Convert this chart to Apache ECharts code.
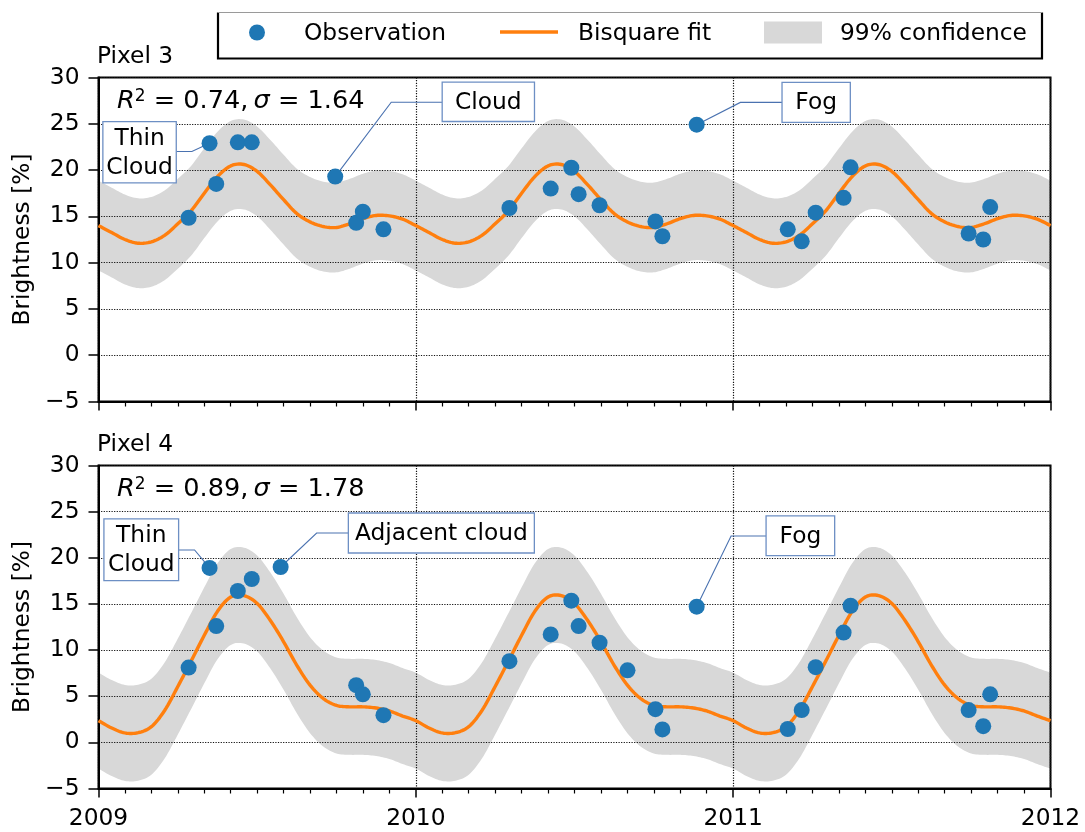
<!DOCTYPE html>
<html>
<head>
<meta charset="utf-8">
<script src="https://cdn.jsdelivr.net/npm/echarts@6/dist/echarts.min.js"></script>
<style>
  html, body { margin: 0; padding: 0; background: #fff; }
  #chart { width: 1085px; height: 832px; }
</style>
</head>
<body>
<div id="chart"></div>
<script>
// ---- data -----------------------------------------------------------------
// Observation dates (decimal years) and brightness values for each pixel
const obsYearsP3 = [2009.284, 2009.350, 2009.371, 2009.439, 2009.483, 2009.746, 2009.812, 2009.833, 2009.898,
                    2010.295, 2010.425, 2010.490, 2010.513, 2010.579, 2010.755, 2010.777, 2010.885,
                    2011.172, 2011.216, 2011.260, 2011.348, 2011.370, 2011.742, 2011.788, 2011.810];
const obsP3 = [14.85, 22.9, 18.5, 23.0, 23.0, 19.3, 14.3, 15.5, 13.6,
               15.9, 18.0, 20.25, 17.4, 16.2, 14.45, 12.85, 24.9,
               13.6, 12.3, 15.4, 17.0, 20.3, 13.15, 12.5, 16.0];

const obsYearsP4 = [2009.284, 2009.350, 2009.371, 2009.439, 2009.483, 2009.574, 2009.812, 2009.833, 2009.898,
                    2010.295, 2010.425, 2010.490, 2010.513, 2010.579, 2010.667, 2010.755, 2010.777, 2010.885,
                    2011.172, 2011.216, 2011.260, 2011.348, 2011.370, 2011.742, 2011.788, 2011.810];
const obsP4 = [8.1, 18.9, 12.6, 16.4, 17.7, 19.0, 6.2, 5.2, 2.95,
               8.8, 11.7, 15.35, 12.6, 10.8, 7.8, 3.6, 1.4, 14.7,
               1.45, 3.5, 8.15, 11.9, 14.8, 3.5, 1.75, 5.2];

// Bisquare fit, sampled every half month from 2009.0 to 2012.0
const fitStartYear = 2009;
const fitSamplesPerYear = 24;
const fitP3 = [
  14.0, 13.25, 12.5, 12.1, 12.25, 12.95, 14.2, 15.6, 17.5, 19.3, 20.45, 20.6,
  19.85, 18.4, 16.8, 15.3, 14.4, 13.9, 13.8, 14.2, 14.75, 15.1, 15.05, 14.7,
  14.0, 13.25, 12.5, 12.1, 12.25, 12.95, 14.2, 15.6, 17.5, 19.3, 20.45, 20.6,
  19.85, 18.4, 16.8, 15.3, 14.4, 13.9, 13.8, 14.2, 14.75, 15.1, 15.05, 14.7,
  14.0, 13.25, 12.5, 12.1, 12.25, 12.95, 14.2, 15.6, 17.5, 19.3, 20.45, 20.6,
  19.85, 18.4, 16.8, 15.3, 14.4, 13.9, 13.8, 14.2, 14.75, 15.1, 15.05, 14.7,
  14.0
];
const fitP4 = [
  2.35, 1.55, 1.02, 1.05, 1.7, 3.45, 6.05, 8.8, 11.6, 14.2, 15.75, 15.9,
  15.05, 13.2, 10.9, 8.35, 6.2, 4.75, 4.0, 3.85, 3.85, 3.72, 3.4, 2.85,
  2.35, 1.55, 1.02, 1.05, 1.7, 3.45, 6.05, 8.8, 11.6, 14.2, 15.75, 15.9,
  15.05, 13.2, 10.9, 8.35, 6.2, 4.75, 4.0, 3.85, 3.85, 3.72, 3.4, 2.85,
  2.35, 1.55, 1.02, 1.05, 1.7, 3.45, 6.05, 8.8, 11.6, 14.2, 15.75, 15.9,
  15.05, 13.2, 10.9, 8.35, 6.2, 4.75, 4.0, 3.85, 3.85, 3.72, 3.4, 2.85,
  2.35
];
// Half width of the 99% confidence band around each fit
const bandHalfWidthP3 = 4.85;
const bandHalfWidthP4 = 5.2;

// Axis ticks
const xTicks = [2009, 2010, 2011, 2012];
const yTicks = [-5, 0, 5, 10, 15, 20, 25, 30];

// Panel texts
const panelTitles = ['Pixel 3', 'Pixel 4'];
const fitR2 = ['0.74', '0.89'];
const fitSigma = ['1.64', '1.78'];
const legendNames = ['Observation', 'Bisquare fit', '99% confidence'];

// Flagged observations (index into the observation arrays)
const annotP3 = [
  { text: 'Thin\nCloud', obs: 1 },
  { text: 'Cloud', obs: 5 },
  { text: 'Fog', obs: 16 }
];
const annotP4 = [
  { text: 'Thin\nCloud', obs: 1 },
  { text: 'Adjacent cloud', obs: 5 },
  { text: 'Fog', obs: 17 }
];

// ---- styling / layout -----------------------------------------------------
const FONT = 'DejaVu Sans';
const FS = 23.33;
const C_OBS = '#1f77b4';
const C_FIT = '#ff7f0e';
const C_BAND = '#d8d8d8';
const C_ANNOT = '#4a72b0';

const grids = [
  { left: 98.5, top: 77.5, width: 952, height: 324 },
  { left: 98.5, top: 465.5, width: 952, height: 323 }
];

// Box centre / elbow offsets (px) relative to the annotated point, box size
const annotLayout = [
  [
    { box: [-70, 9], elbow: [-17.7, 8.3], size: [73.4, 61.3] },
    { box: [153.1, -74.7], elbow: [56, -74.3], size: [92.3, 39.3] },
    { box: [119.5, -22.3], elbow: [43.7, -22.3], size: [68.3, 40] }
  ],
  [
    { box: [-68.3, -18.2], elbow: [-15, -18], size: [74.7, 61.6] },
    { box: [160.7, -34], elbow: [36, -34], size: [186, 40] },
    { box: [103.7, -70.9], elbow: [34.4, -70.7], size: [68.6, 39.7] }
  ]
];

// ---- helpers --------------------------------------------------------------
function fitYear(i) { return fitStartYear + i / fitSamplesPerYear; }

// Catmull-Rom densification of screen points so curves render smoothly
function catmullRom(pts, n) {
  const out = [];
  const f = (a, b, c, d, t) => {
    const t2 = t * t, t3 = t2 * t;
    return 0.5 * (2 * b + (-a + c) * t + (2 * a - 5 * b + 4 * c - d) * t2 + (-a + 3 * b - 3 * c + d) * t3);
  };
  for (let i = 0; i < pts.length - 1; i++) {
    const p0 = pts[Math.max(i - 1, 0)], p1 = pts[i], p2 = pts[i + 1], p3 = pts[Math.min(i + 2, pts.length - 1)];
    for (let s = 0; s < n; s++) {
      const t = s / n;
      out.push([f(p0[0], p1[0], p2[0], p3[0], t), f(p0[1], p1[1], p2[1], p3[1], t)]);
    }
  }
  out.push(pts[pts.length - 1]);
  return out;
}

function minusSign(v) {
  return v < 0 ? '\u2212' + Math.abs(v) : String(v);
}

const dotted = { color: '#111', width: 1.2, type: [1.2, 1.4] };

function xAxis(i) {
  return {
    type: 'value', gridIndex: i,
    min: xTicks[0], max: xTicks[xTicks.length - 1], interval: xTicks[1] - xTicks[0],
    z: 2,
    axisLine: { show: true, onZero: false, lineStyle: { color: '#000', width: 2 } },
    axisTick: { show: true, length: 9, lineStyle: { color: '#000', width: 1.5 } },
    minorTick: { show: true, splitNumber: 12, length: 5, lineStyle: { color: '#000', width: 1.2 } },
    axisLabel: {
      show: i === 1, color: '#000', fontFamily: FONT, fontSize: FS, margin: 19,
      formatter: v => String(v)
    },
    splitLine: { show: true, lineStyle: dotted }
  };
}
function yAxis(i) {
  return {
    type: 'value', gridIndex: i,
    min: yTicks[0], max: yTicks[yTicks.length - 1], interval: yTicks[1] - yTicks[0],
    z: 2,
    name: 'Brightness [%]', nameLocation: 'middle', nameGap: 61,
    nameTextStyle: { color: '#000', fontFamily: FONT, fontSize: FS },
    axisLine: { show: true, onZero: false, lineStyle: { color: '#000', width: 2 } },
    axisTick: { show: true, length: 10, lineStyle: { color: '#000', width: 1.5 } },
    axisLabel: { color: '#000', fontFamily: FONT, fontSize: FS, margin: 19, formatter: minusSign },
    splitLine: { show: true, lineStyle: dotted }
  };
}

// Confidence band: fit +/- half width, filled polygon
function bandSeries(i, fit, hw) {
  return {
    name: legendNames[2], type: 'custom', xAxisIndex: i, yAxisIndex: i, z: 1, clip: true, silent: true,
    encode: { x: 0, y: [1, 2] },
    data: fit.map((v, k) => [fitYear(k), v - hw, v + hw]),
    renderItem: function (params, api) {
      if (params.dataIndex !== 0) return { type: 'group', children: [] };
      const upper = fit.map((v, k) => api.coord([fitYear(k), v + hw]));
      const lower = fit.map((v, k) => api.coord([fitYear(k), v - hw]));
      const pts = catmullRom(upper, 8).concat(catmullRom(lower, 8).reverse());
      return { type: 'polygon', shape: { points: pts }, style: { fill: C_BAND, stroke: null } };
    }
  };
}

// Fitted curve
function fitSeries(i, fit) {
  return {
    name: legendNames[1], type: 'custom', xAxisIndex: i, yAxisIndex: i, z: 3, clip: true, silent: true,
    encode: { x: 0, y: 1 },
    data: fit.map((v, k) => [fitYear(k), v]),
    renderItem: function (params, api) {
      if (params.dataIndex !== 0) return { type: 'group', children: [] };
      const pts = fit.map((v, k) => api.coord([fitYear(k), v]));
      return { type: 'polyline', shape: { points: catmullRom(pts, 8) },
               style: { stroke: C_FIT, lineWidth: 3.4, fill: null, lineJoin: 'round' } };
    }
  };
}

function annotationSeries(i, annots, years, values) {
  const lay = annotLayout[i];
  return {
    type: 'custom', xAxisIndex: i, yAxisIndex: i, z: 4, clip: false, silent: true,
    encode: { x: 0, y: 1 },
    data: annots.map(a => [years[a.obs], values[a.obs]]),
    renderItem: function (params, api) {
      const L = lay[params.dataIndex];
      const p = api.coord([api.value(0), api.value(1)]);
      const cx = p[0] + L.box[0], cy = p[1] + L.box[1];
      const ex = p[0] + L.elbow[0], ey = p[1] + L.elbow[1];
      const w = L.size[0], h = L.size[1];
      const sideX = ex < cx ? cx - w / 2 : cx + w / 2;
      return {
        type: 'group',
        children: [
          { type: 'polyline', shape: { points: [[sideX, ey], [ex, ey], [p[0], p[1]]] },
            style: { stroke: C_ANNOT, lineWidth: 1.1, fill: null } },
          { type: 'rect', shape: { x: cx - w / 2, y: cy - h / 2, width: w, height: h },
            style: { fill: '#fff', stroke: '#6d8fc4', lineWidth: 1.3 } },
          { type: 'text', x: cx, y: cy + 1,
            style: { text: annots[params.dataIndex].text, fill: '#000',
                     font: FS + 'px "' + FONT + '"', align: 'center', verticalAlign: 'middle',
                     lineHeight: 29 } }
        ]
      };
    }
  };
}

function panelSeries(i, fit, hw, years, values, annots) {
  return [
    bandSeries(i, fit, hw),
    fitSeries(i, fit),
    annotationSeries(i, annots, years, values),
    { name: legendNames[0], type: 'scatter', xAxisIndex: i, yAxisIndex: i, z: 5,
      data: years.map((y, k) => [y, values[k]]), symbol: 'circle', symbolSize: 16,
      itemStyle: { color: C_OBS, opacity: 1 }, silent: true }
  ];
}

// Titles, fit statistics and the legend box
const textFont = FS + 'px "' + FONT + '"';
const graphic = [];
panelTitles.forEach((t, i) => {
  graphic.push({ type: 'text', left: 97, top: grids[i].top - 32,
    style: { text: t, font: textFont, fill: '#000' } });
  graphic.push({ type: 'text', left: 117, top: grids[i].top + 11,
    style: {
      text: '{it|R}{sup|2} = ' + fitR2[i] + ',\u2009{it|\u03c3} = ' + fitSigma[i],
      font: '25.6px "' + FONT + '"', fill: '#000',
      rich: {
        it: { fontStyle: 'italic', fontFamily: FONT, fontSize: 25.6 },
        sup: { fontFamily: FONT, fontSize: 17, verticalAlign: 'top' }
      }
    } });
});
const LG = { x0: 218, y0: 12.5, x1: 1042, y1: 58.5 };
graphic.push(
  { type: 'rect', shape: { x: LG.x0, y: LG.y0, width: LG.x1 - LG.x0, height: LG.y1 - LG.y0 },
    style: { fill: '#fff', stroke: null }, z: 100 },
  { type: 'polyline', shape: { points: [[LG.x0, LG.y0], [LG.x0, LG.y1], [LG.x1, LG.y1], [LG.x1, LG.y0]] },
    style: { stroke: '#000', lineWidth: 2.2, fill: null }, z: 101 },
  { type: 'line', shape: { x1: LG.x0, y1: LG.y0, x2: LG.x1, y2: LG.y0 },
    style: { stroke: '#9a9a9a', lineWidth: 1 }, z: 101 },
  { type: 'circle', shape: { cx: 257, cy: 32.5, r: 8 }, style: { fill: C_OBS }, z: 102 },
  { type: 'text', left: 304, top: 22, style: { text: legendNames[0], font: textFont, fill: '#000' }, z: 102 },
  { type: 'line', shape: { x1: 500, y1: 32, x2: 558, y2: 32 }, style: { stroke: C_FIT, lineWidth: 3.4 }, z: 102 },
  { type: 'text', left: 578, top: 22, style: { text: legendNames[1], font: textFont, fill: '#000' }, z: 102 },
  { type: 'rect', shape: { x: 764, y: 21.5, width: 58, height: 22 }, style: { fill: C_BAND }, z: 102 },
  { type: 'text', left: 840, top: 22, style: { text: legendNames[2], font: textFont, fill: '#000' }, z: 102 }
);

const option = {
  animation: false,
  backgroundColor: '#fff',
  grid: grids.map(g => Object.assign({ show: true, borderColor: '#000', borderWidth: 2,
                                        backgroundColor: 'transparent', z: 2 }, g)),
  xAxis: [xAxis(0), xAxis(1)],
  yAxis: [yAxis(0), yAxis(1)],
  series: [].concat(
    panelSeries(0, fitP3, bandHalfWidthP3, obsYearsP3, obsP3, annotP3),
    panelSeries(1, fitP4, bandHalfWidthP4, obsYearsP4, obsP4, annotP4)
  ),
  graphic: graphic
};

const chart = echarts.init(document.getElementById('chart'), null, { renderer: 'canvas' });
chart.setOption(option);
</script>
</body>
</html>
